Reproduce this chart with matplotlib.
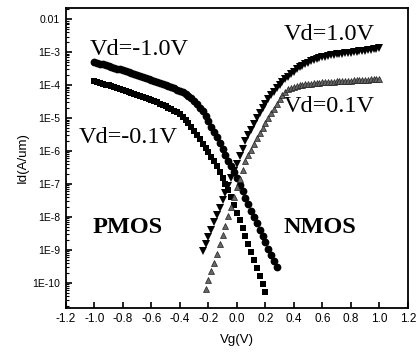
import numpy as np
import matplotlib
matplotlib.use("Agg")
import matplotlib.pyplot as plt
from matplotlib.ticker import LogLocator, NullFormatter

# ========= Data, log10 of Id in A/um =========
vg_pmos_1v = [-1.00, -0.98, -0.96, -0.94, -0.92, -0.90, -0.88, -0.86, -0.84, -0.82,
              -0.80, -0.78, -0.76, -0.74, -0.72, -0.70, -0.68, -0.66, -0.64, -0.62,
              -0.60, -0.58, -0.56, -0.54, -0.52, -0.50, -0.48, -0.46, -0.44, -0.42,
              -0.40, -0.38, -0.36, -0.34, -0.32, -0.30, -0.28, -0.26, -0.24, -0.22,
              -0.20, -0.18, -0.16, -0.14, -0.12, -0.10, -0.08, -0.06, -0.04, -0.02,
              0.00, 0.02, 0.04, 0.06, 0.08, 0.10, 0.12, 0.14, 0.16, 0.18,
              0.20, 0.22, 0.24, 0.26, 0.28]
log_id_pmos_1v = [-3.30, -3.32, -3.35, -3.37, -3.40, -3.42, -3.45, -3.47, -3.50, -3.52,
                  -3.55, -3.58, -3.61, -3.64, -3.67, -3.70, -3.73, -3.76, -3.79, -3.82,
                  -3.85, -3.88, -3.91, -3.94, -3.97, -4.00, -4.03, -4.06, -4.10, -4.14,
                  -4.18, -4.22, -4.27, -4.33, -4.40, -4.48, -4.57, -4.68, -4.80, -4.95,
                  -5.10, -5.26, -5.42, -5.59, -5.76, -5.93, -6.11, -6.29, -6.47, -6.65,
                  -6.83, -7.02, -7.22, -7.42, -7.62, -7.82, -8.01, -8.20, -8.40, -8.59,
                  -8.78, -8.97, -9.16, -9.35, -9.52]

vg_pmos_01v = [-1.00, -0.98, -0.96, -0.94, -0.92, -0.90, -0.88, -0.86, -0.84, -0.82,
               -0.80, -0.78, -0.76, -0.74, -0.72, -0.70, -0.68, -0.66, -0.64, -0.62,
               -0.60, -0.58, -0.56, -0.54, -0.52, -0.50, -0.48, -0.46, -0.44, -0.42,
               -0.40, -0.38, -0.36, -0.34, -0.32, -0.30, -0.28, -0.26, -0.24, -0.22,
               -0.20, -0.18, -0.16, -0.14, -0.12, -0.10, -0.08, -0.06, -0.04, -0.02,
               0.00, 0.02, 0.04, 0.06, 0.08, 0.10, 0.12, 0.14, 0.16, 0.18, 0.20]
log_id_pmos_01v = [-3.86, -3.89, -3.92, -3.95, -3.98, -4.01, -4.04, -4.07, -4.10, -4.13,
                   -4.16, -4.19, -4.22, -4.25, -4.28, -4.31, -4.34, -4.37, -4.40, -4.43,
                   -4.46, -4.49, -4.52, -4.56, -4.60, -4.64, -4.68, -4.73, -4.78, -4.83,
                   -4.89, -4.97, -5.06, -5.16, -5.27, -5.39, -5.52, -5.65, -5.78, -5.91,
                   -6.04, -6.17, -6.30, -6.46, -6.63, -6.81, -7.00, -7.20, -7.41, -7.64,
                   -7.87, -8.11, -8.35, -8.59, -8.83, -9.07, -9.31, -9.55, -9.79, -10.04,
                   -10.29]

vg_nmos_1v = [-0.24, -0.22, -0.20, -0.18, -0.16, -0.14, -0.12, -0.10, -0.08, -0.06,
              -0.04, -0.02, 0.00, 0.02, 0.04, 0.06, 0.08, 0.10, 0.12, 0.14,
              0.16, 0.18, 0.20, 0.22, 0.24, 0.26, 0.28, 0.30, 0.32, 0.34,
              0.36, 0.38, 0.40, 0.42, 0.44, 0.46, 0.48, 0.50, 0.52, 0.54,
              0.56, 0.58, 0.60, 0.62, 0.64, 0.66, 0.68, 0.70, 0.72, 0.74,
              0.76, 0.78, 0.80, 0.82, 0.84, 0.86, 0.88, 0.90, 0.92, 0.94,
              0.96, 0.98, 1.00]
log_id_nmos_1v = [-9.05, -8.83, -8.61, -8.39, -8.17, -7.95, -7.72, -7.50, -7.28, -7.06,
                  -6.83, -6.61, -6.39, -6.16, -5.93, -5.70, -5.52, -5.35, -5.18, -5.01,
                  -4.85, -4.70, -4.56, -4.43, -4.31, -4.20, -4.10, -4.00, -3.91, -3.82,
                  -3.74, -3.66, -3.59, -3.52, -3.46, -3.41, -3.36, -3.32, -3.28, -3.24,
                  -3.21, -3.18, -3.15, -3.13, -3.11, -3.09, -3.07, -3.06, -3.05, -3.04,
                  -3.03, -3.02, -3.01, -3.00, -2.98, -2.97, -2.96, -2.95, -2.93, -2.92,
                  -2.90, -2.89, -2.87]

vg_nmos_01v = [-0.22, -0.20, -0.18, -0.16, -0.14, -0.12, -0.10, -0.08, -0.06, -0.04,
               -0.02, 0.00, 0.02, 0.04, 0.06, 0.08, 0.10, 0.12, 0.14, 0.16,
               0.18, 0.20, 0.22, 0.24, 0.26, 0.28, 0.30, 0.32, 0.34, 0.36,
               0.38, 0.40, 0.42, 0.44, 0.46, 0.48, 0.50, 0.52, 0.54, 0.56,
               0.58, 0.60, 0.62, 0.64, 0.66, 0.68, 0.70, 0.72, 0.74, 0.76,
               0.78, 0.80, 0.82, 0.84, 0.86, 0.88, 0.90, 0.92, 0.94, 0.96,
               0.98, 1.00]
log_id_nmos_01v = [-10.18, -9.93, -9.66, -9.39, -9.12, -8.84, -8.56, -8.28, -7.99, -7.70,
                   -7.40, -7.10, -6.84, -6.57, -6.31, -6.13, -5.96, -5.79, -5.62, -5.46,
                   -5.31, -5.16, -5.01, -4.86, -4.71, -4.56, -4.42, -4.30, -4.20, -4.13,
                   -4.08, -4.05, -4.02, -4.00, -3.98, -3.97, -3.96, -3.95, -3.94, -3.93,
                   -3.92, -3.91, -3.905, -3.90, -3.895, -3.89, -3.885, -3.88, -3.875, -3.87,
                   -3.865, -3.86, -3.855, -3.85, -3.845, -3.84, -3.835, -3.83, -3.825, -3.82,
                   -3.815, -3.81]

x_ticks = [-1.2, -1.0, -0.8, -0.6, -0.4, -0.2, 0.0, 0.2, 0.4, 0.6, 0.8, 1.0, 1.2]
y_ticks = [1e-2, 1e-3, 1e-4, 1e-5, 1e-6, 1e-7, 1e-8, 1e-9, 1e-10]
y_tick_labels = ["0.01", "1E-3", "1E-4", "1E-5", "1E-6", "1E-7", "1E-8", "1E-9", "1E-10"]

sans = ["Liberation Sans", "DejaVu Sans"]
serif = ["Liberation Serif", "DejaVu Serif"]

fig = plt.figure(figsize=(4.17, 3.56), dpi=100)
ax = fig.add_axes([0.158, 0.135, 0.82, 0.843])

ax.plot(vg_pmos_1v, 10 ** np.array(log_id_pmos_1v), "o", color="black", ms=5.6, mew=0)
ax.plot(vg_pmos_01v, 10 ** np.array(log_id_pmos_01v), "s", color="black", ms=5.0, mew=0)
ax.plot(vg_nmos_1v, 10 ** np.array(log_id_nmos_1v), "v", color="black", ms=6.0, mew=0)
ax.plot(vg_nmos_01v, 10 ** np.array(log_id_nmos_01v), "^", color="#666666",
        mec="#222222", ms=4.8, mew=0.5)

ax.set_yscale("log")
ax.set_xlim(-1.2, 1.2)
ax.set_ylim(10 ** -10.77, 10 ** -1.65)

ax.set_xticks(x_ticks)
ax.set_xticklabels([f"{t:.1f}" for t in x_ticks], fontsize=8.5, family=sans)
ax.set_yticks(y_ticks)
ax.set_yticklabels(y_tick_labels, fontsize=7.5, family=sans)
ax.yaxis.set_minor_locator(LogLocator(base=10, subs=np.arange(2, 10), numticks=20))
ax.yaxis.set_minor_formatter(NullFormatter())

ax.tick_params(axis="both", which="major", direction="in", length=4, width=1.2, pad=4)
ax.tick_params(axis="y", which="minor", direction="in", length=2.5, width=0.8)
for sp in ax.spines.values():
    sp.set_linewidth(1.3)

ax.set_xlabel("Vg(V)", fontsize=9.5, family=sans, labelpad=6)
ax.set_ylabel("Id(A/um)", fontsize=9.5, family=sans, labelpad=3)

# Annotations
ax.text(-1.03, 10 ** -3.08, "Vd=-1.0V", fontsize=17.5, family=serif)
ax.text(-1.11, 10 ** -5.77, "Vd=-0.1V", fontsize=17.5, family=serif)
ax.text(0.33, 10 ** -2.62, "Vd=1.0V", fontsize=17.5, family=serif)
ax.text(0.33, 10 ** -4.82, "Vd=0.1V", fontsize=17.5, family=serif)
ax.text(-1.01, 10 ** -8.48, "PMOS", fontsize=17.5, family=serif, fontweight="bold")
ax.text(0.33, 10 ** -8.48, "NMOS", fontsize=17.5, family=serif, fontweight="bold")

fig.savefig("out.png", dpi=100)
